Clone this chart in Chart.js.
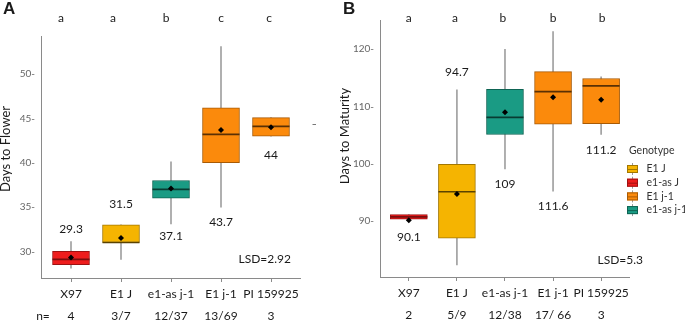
<!DOCTYPE html>
<html>
<head>
<meta charset="utf-8">
<script src="https://cdn.jsdelivr.net/npm/chart.js@4.4.1/dist/chart.umd.min.js"></script>
<style>
  html, body { margin: 0; padding: 0; background: #fff; }
  #wrap { position: relative; width: 685px; height: 323px; }
  #flower { position: absolute; left: 0; top: 0; }
  #maturity { position: absolute; left: 340px; top: 0; }
</style>
</head>
<body>
<div id="wrap">
  <canvas id="flower" width="340" height="323"></canvas>
  <canvas id="maturity" width="345" height="323"></canvas>
</div>
<script>
var genotypes = ['X97', 'E1 J', 'e1-as j-1', 'E1 j-1', 'PI 159925'];
var nFlower = ['4', '3/7', '12/37', '13/69', '3'];
var nMaturity = ['2', '5/9', '12/38', '17/ 66', '3'];
var lettersFlower = ['a', 'a', 'b', 'c', 'c'];
var lettersMaturity = ['a', 'a', 'b', 'b', 'b'];

// days to flower: whisker low, Q1, median, Q3, whisker high, mean
var flowerLow = [28.1, 29.1, 33.1, 35, 43];
var flowerQ1 = [28.5, 31, 36, 40, 43];
var flowerMed = [29.1, 31, 37, 43.2, 44.1];
var flowerQ3 = [30, 33, 38, 46.2, 45.1];
var flowerHigh = [31.1, 33, 40.1, 53.1, 45.1];
var flowerMean = [29.3, 31.5, 37.1, 43.7, 44];

// days to maturity
var maturityLow = [90.4, 82.3, 99.1, 95.2, 105.1];
var maturityQ1 = [90.3, 87, 105.1, 106.9, 107];
var maturityMed = [90.7, 95.1, 108.1, 112.6, 113.6];
var maturityQ3 = [91.1, 99.9, 113, 116.1, 114.9];
var maturityHigh = [91.1, 112.9, 120, 123.1, 115.2];
var maturityMean = [90.1, 94.7, 109, 111.6, 111.2];

var legendNames = ['E1 J', 'e1-as J', 'E1 j-1', 'e1-as j-1'];

var RED = '#ee1d1d', GOLD = '#f5b401', ORANGE = '#fb8a0c', TEAL = '#1a9b84';
var fillCols = [RED, GOLD, TEAL, ORANGE, ORANGE];
var edgeCols = ['#9e1212', '#a37700', '#0e6453', '#a85a04', '#a85a04'];
var medCols = ['#7a0e0e', '#5a4200', '#083c32', '#5a3004', '#5a3004'];
var legendFill = [GOLD, RED, ORANGE, TEAL];
var legendEdge = ['#a37700', '#9e1212', '#a85a04', '#0e6453'];

var FONT = 'Lato, "Open Sans", sans-serif';

function pts(arr) {
  return arr.map(function (v, i) { return { x: i, y: v }; });
}
function ranges(lo, hi) {
  return lo.map(function (v, i) { return { x: i, y: [v, hi[i]] }; });
}

// text bits drawn on top of each panel: letters, value labels, titles
var notes = {
  id: 'notes',
  afterDraw: function (chart, args, o) {
    var ctx = chart.ctx, xs = chart.scales.x, ys = chart.scales.y;
    ctx.save();
    ctx.fillStyle = '#1a1a1a';
    ctx.textAlign = 'center';
    ctx.textBaseline = 'middle';

    ctx.font = '12px ' + FONT;
    o.letters.forEach(function (t, i) {
      ctx.fillText(t, xs.getPixelForValue(i) + o.letterShift[i], o.letterY);
    });

    o.means.forEach(function (m, i) {
      var base = o.side[i] < 0 ? o.high[i] : o.low[i];
      ctx.fillText(String(m), xs.getPixelForValue(i), ys.getPixelForValue(base) + o.side[i]);
    });

    ctx.textAlign = 'right';
    ctx.fillText(o.lsd, o.lsdX, o.lsdY);

    if (o.nPrefix) {
      ctx.textAlign = 'center';
      ctx.fillText('n=', 43, 316);
    }

    // panel letter
    ctx.textAlign = 'left';
    ctx.font = 'bold 17px "Liberation Sans", Arial, sans-serif';
    ctx.fillText(o.panel, 3, 9);

    // y axis title
    ctx.save();
    ctx.translate(o.titleX, o.titleY);
    ctx.rotate(-Math.PI / 2);
    ctx.textAlign = 'center';
    ctx.font = '13px ' + FONT;
    ctx.fillText(o.title, 0, 0);
    ctx.restore();

    if (o.dash) {
      ctx.strokeStyle = '#777';
      ctx.beginPath();
      ctx.moveTo(312.5, 124.5);
      ctx.lineTo(316, 124.5);
      ctx.stroke();
    }

    if (o.legend) {
      ctx.textAlign = 'left';
      ctx.font = '10.5px ' + FONT;
      ctx.fillStyle = '#333';
      ctx.fillText('Genotype', 289, 151);
      legendNames.forEach(function (name, i) {
        var y = 169 + i * 13.7;
        ctx.strokeStyle = '#999';
        ctx.beginPath();
        ctx.moveTo(292.5, y - 6);
        ctx.lineTo(292.5, y + 6);
        ctx.stroke();
        ctx.fillStyle = legendFill[i];
        ctx.strokeStyle = legendEdge[i];
        ctx.fillRect(287, y - 4, 11, 8);
        ctx.strokeRect(287.5, y - 3.5, 10, 7);
        ctx.beginPath();
        ctx.moveTo(287, y + 0.5);
        ctx.lineTo(298, y + 0.5);
        ctx.stroke();
        ctx.fillStyle = '#333';
        ctx.fillText(name, 306.5, y);
      });
    }
    ctx.restore();
  }
};

function makePanel(id, d) {
  var ctx = document.getElementById(id);
  return new Chart(ctx, {
    data: {
      datasets: [
        {
          type: 'scatter',
          data: pts(d.mean),
          pointStyle: 'rectRot',
          radius: 3,
          backgroundColor: '#000',
          borderColor: '#000',
          borderWidth: 0,
          order: 0
        },
        {
          type: 'scatter',
          data: pts(d.med),
          pointStyle: 'line',
          radius: 18.5,
          borderColor: medCols,
          borderWidth: 1.6,
          order: 1
        },
        {
          type: 'bar',
          data: ranges(d.q1, d.q3),
          backgroundColor: fillCols,
          borderColor: edgeCols,
          borderWidth: 1,
          borderSkipped: false,
          barThickness: 37,
          grouped: false,
          order: 2
        },
        {
          type: 'bar',
          data: ranges(d.low, d.high),
          backgroundColor: '#a0a0a0',
          borderWidth: 0,
          barThickness: 1,
          grouped: false,
          order: 3
        }
      ]
    },
    options: {
      responsive: false,
      animation: false,
      events: [],
      layout: { padding: { left: 0, top: d.top, right: d.right, bottom: 0 } },
      plugins: {
        legend: { display: false },
        tooltip: { enabled: false },
        notes: d.notes
      },
      scales: {
        x: {
          type: 'linear',
          offset: false,
          min: -0.6,
          max: 4.58,
          afterBuildTicks: function (s) {
            s.ticks = genotypes.map(function (g, i) { return { value: i }; });
          },
          afterFit: function (s) { s.height = d.xHeight; },
          ticks: {
            autoSkip: false,
            maxRotation: 0,
            padding: 1,
            color: '#1a1a1a',
            font: { family: FONT, size: 12, lineHeight: 1.83 },
            callback: function (v) { return [genotypes[v], d.n[v]]; }
          },
          grid: { offset: false, drawOnChartArea: false, drawTicks: true, tickLength: 4, color: '#8a8a8a' },
          border: { display: true, color: '#8a8a8a', width: 1 }
        },
        y: {
          min: d.yMin,
          max: d.yMax,
          afterFit: function (s) { s.width = d.yWidth; },
          ticks: {
            stepSize: d.step,
            includeBounds: false,
            padding: 6,
            color: '#666',
            font: { family: FONT, size: 10 },
            callback: function (v) { return v + '-'; }
          },
          grid: { drawOnChartArea: false, drawTicks: false },
          border: { display: true, color: '#8a8a8a', width: 1 }
        }
      }
    },
    plugins: [notes]
  });
}

makePanel('flower', {
  low: flowerLow, q1: flowerQ1, med: flowerMed, q3: flowerQ3, high: flowerHigh, mean: flowerMean,
  n: nFlower, top: 36, right: 40, xHeight: 45, yWidth: 41, yMin: 27, yMax: 54.3, step: 5,
  notes: {
    letters: lettersFlower, letterShift: [-10, -8, -5, 0, -2], letterY: 18,
    means: flowerMean, high: flowerHigh, low: flowerLow, side: [-13, -21, 12, 15, 19],
    lsd: 'LSD=2.92', lsdX: 291, lsdY: 259, nPrefix: true, panel: 'A',
    title: 'Days to Flower', titleX: 6, titleY: 149, dash: true, legend: false
  }
});

makePanel('maturity', {
  low: maturityLow, q1: maturityQ1, med: maturityMed, q3: maturityQ3, high: maturityHigh, mean: maturityMean,
  n: nMaturity, top: 17, right: 56, xHeight: 46, yWidth: 40, yMin: 80.2, yMax: 125.1, step: 10,
  notes: {
    letters: lettersMaturity, letterShift: [0, -2, -2, 0, 1], letterY: 18,
    means: maturityMean, high: maturityHigh, low: maturityLow, side: [18, -18, 15, 15, 16],
    lsd: 'LSD=5.3', lsdX: 303, lsdY: 260, nPrefix: false, panel: 'B',
    title: 'Days to Maturity', titleX: 5, titleY: 136, dash: false, legend: true
  }
});
</script>
</body>
</html>
